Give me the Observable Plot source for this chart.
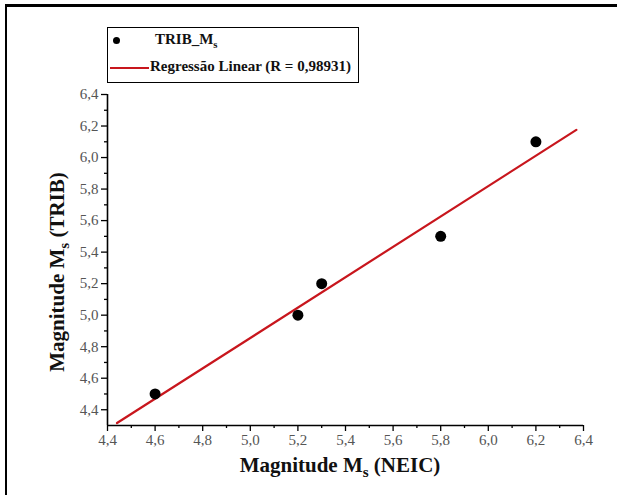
<!DOCTYPE html>
<html><head><meta charset="utf-8">
<script src="https://cdn.jsdelivr.net/npm/d3@7"></script>
<script src="https://cdn.jsdelivr.net/npm/@observablehq/plot@0.6"></script>
<style>
body{margin:0;background:#fff;}
#wrap{position:relative;width:617px;height:495px;overflow:hidden;font-family:"Liberation Serif","Times New Roman",serif;background:#fff;}
#wrap svg{position:absolute;left:0;top:0;}
.frameTop{position:absolute;left:5px;top:4px;width:612px;height:3px;background:#000;}
.frameLeft{position:absolute;left:5px;top:4px;width:2px;height:491px;background:#000;}
#legend{position:absolute;left:107px;top:27px;width:250px;height:54px;border:1.5px solid #000;background:#fff;font-weight:bold;font-size:15px;color:#111;}
#legend .dot{position:absolute;left:5px;top:9px;width:7px;height:7px;border-radius:50%;background:#000;}
#legend .ln{position:absolute;left:2px;top:39px;width:39px;height:2px;background:#c8161d;}
#legend .t1{position:absolute;left:47px;top:3px;white-space:nowrap;}
#legend .t2{position:absolute;left:42px;top:30px;white-space:nowrap;}
sub{font-size:0.72em;vertical-align:-0.35em;line-height:0;}
.xt{position:absolute;left:0;width:680px;top:453px;text-align:center;font-weight:bold;font-size:21px;color:#111;white-space:nowrap;}
.yt{position:absolute;left:57px;top:272px;transform:translate(-50%,-50%) rotate(-90deg);font-weight:bold;font-size:21px;color:#111;white-space:nowrap;}
</style></head>
<body>
<div id="wrap">
</div>
<script>
const xNEIC = [4.6, 5.2, 5.3, 5.8, 6.2];
const yTRIB = [4.5, 5.0, 5.2, 5.5, 6.1];
const fitRange = [4.44, 6.37];
const xMajor = [4.4, 4.6, 4.8, 5.0, 5.2, 5.4, 5.6, 5.8, 6.0, 6.2, 6.4];
const xMinor = [4.5, 4.7, 4.9, 5.1, 5.3, 5.5, 5.7, 5.9, 6.1, 6.3];
const yMajor = [4.4, 4.6, 4.8, 5.0, 5.2, 5.4, 5.6, 5.8, 6.0, 6.2, 6.4];
const yMinor = [4.5, 4.7, 4.9, 5.1, 5.3, 5.5, 5.7, 5.9, 6.1, 6.3];
const xDomain = [4.4, 6.4];
const yDomain = [4.3, 6.4];

const pts = xNEIC.map((x, i) => ({x, y: yTRIB[i]}));
const mx = d3.mean(xNEIC), my = d3.mean(yTRIB);
const sxy = d3.sum(xNEIC, (x, i) => (x - mx) * (yTRIB[i] - my));
const sxx = d3.sum(xNEIC, x => (x - mx) ** 2);
const slope = sxy / sxx, intercept = my - slope * mx;
const fit = fitRange.map(x => ({x, y: intercept + slope * x}));
const fmt = d => d.toFixed(1).replace(".", ",");

const chart = Plot.plot({
  width: 617, height: 495,
  marginLeft: 107, marginRight: 34, marginTop: 94, marginBottom: 70,
  style: {fontFamily: '"Liberation Serif","Times New Roman",serif', fontSize: "15px", color: "#333", background: "transparent"},
  x: {domain: xDomain, axis: null},
  y: {domain: yDomain, axis: null},
  marks: [
    Plot.axisX(xMinor, {tickSize: 3, tickFormat: () => "", stroke: "#000", strokeWidth: 1.3, label: null}),
    Plot.axisX(xMajor, {tickSize: 6, tickPadding: 3, tickFormat: fmt, stroke: "#000", strokeWidth: 1.3, fill: "#555", fontSize: 15, label: null}),
    Plot.axisY(yMinor, {tickSize: 3, tickFormat: () => "", stroke: "#000", strokeWidth: 1.3, label: null}),
    Plot.axisY(yMajor, {tickSize: 6, tickPadding: 3, tickFormat: fmt, stroke: "#000", strokeWidth: 1.3, fill: "#555", fontSize: 15, label: null}),
    Plot.ruleY([yDomain[0]], {stroke: "#000", strokeWidth: 1.6}),
    Plot.ruleX([xDomain[0]], {stroke: "#000", strokeWidth: 1.6}),
    Plot.line(fit, {x: "x", y: "y", stroke: "#c8161d", strokeWidth: 2.2}),
    Plot.dot(pts, {x: "x", y: "y", r: 5.5, fill: "#000", stroke: "none"})
  ]
});
const wrap = document.getElementById("wrap");
wrap.appendChild(chart);
wrap.insertAdjacentHTML("beforeend", `
<div class="frameTop"></div><div class="frameLeft"></div>
<div id="legend"><span class="dot"></span><span class="t1">TRIB_M<sub>s</sub></span><span class="ln"></span><span class="t2">Regressão Linear (R = 0,98931)</span></div>
<div class="xt">Magnitude M<sub>s</sub> (NEIC)</div>
<div class="yt">Magnitude M<sub>s</sub> (TRIB)</div>`);
</script>
</body></html>
